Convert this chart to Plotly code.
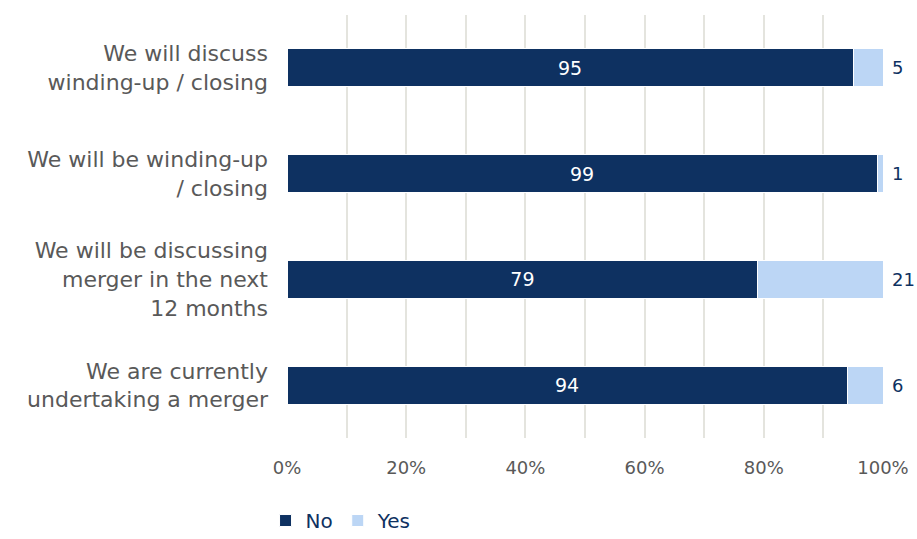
import plotly.graph_objects as go

categories = [
    "We will discuss<br>winding-up / closing",
    "We will be winding-up<br>/ closing",
    "We will be discussing<br>merger in the next<br>12 months",
    "We are currently<br>undertaking a merger",
]
no_vals = [95, 99, 79, 94]
yes_vals = [5, 1, 21, 6]
x_ticks = [0, 20, 40, 60, 80, 100]
x_tick_labels = ["0%", "20%", "40%", "60%", "80%", "100%"]

NAVY = "#0E3161"
LIGHT = "#BCD6F5"
GRAY = "#595959"
FONT = "DejaVu Sans"

fig = go.Figure()
fig.add_trace(go.Bar(
    name="No", y=categories, x=no_vals, orientation="h",
    marker=dict(color=NAVY, line=dict(color="white", width=1)),
    text=[str(v) for v in no_vals], textposition="inside", insidetextanchor="middle",
    textfont=dict(color="white", size=19, family=FONT),
))
fig.add_trace(go.Bar(
    name="Yes", y=categories, x=yes_vals, orientation="h",
    marker=dict(color=LIGHT, line=dict(color="white", width=1)),
))

for c, n, y in zip(categories, no_vals, yes_vals):
    fig.add_annotation(x=n + y, y=c, text=str(y), showarrow=False, xanchor="left",
                       xshift=7, font=dict(color=NAVY, size=18, family=FONT))

fig.update_layout(
    barmode="stack",
    bargap=0.64,
    width=917, height=539,
    margin=dict(l=287, r=34, t=15, b=101, autoexpand=False),
    plot_bgcolor="white", paper_bgcolor="white",
    font=dict(family=FONT, size=20, color=GRAY),
    legend=dict(orientation="h", x=-0.036, xanchor="left", y=-0.149, yanchor="top",
                font=dict(color=NAVY, size=20, family=FONT), traceorder="normal",
                itemwidth=30),
    showlegend=True,
)
fig.update_xaxes(range=[0, 100], tickvals=x_ticks, ticktext=x_tick_labels,
                 showgrid=True, gridcolor="#E4E4DE", gridwidth=1.5,
                 minor=dict(dtick=10, showgrid=True, gridcolor="#E4E4DE", gridwidth=1.5),
                 zeroline=False, showline=False, ticklabelstandoff=17, automargin=False,
                 tickfont=dict(size=18, color=GRAY, family=FONT))
fig.update_yaxes(categoryorder="array", categoryarray=categories[::-1],
                 showgrid=False, showline=False, ticklabelstandoff=18, automargin=False,
                 tickfont=dict(size=22, color=GRAY, family=FONT))

fig.write_html("out.html", config={"displayModeBar": False},
               post_script="document.body.style.margin='0';document.body.style.overflow='hidden';")
